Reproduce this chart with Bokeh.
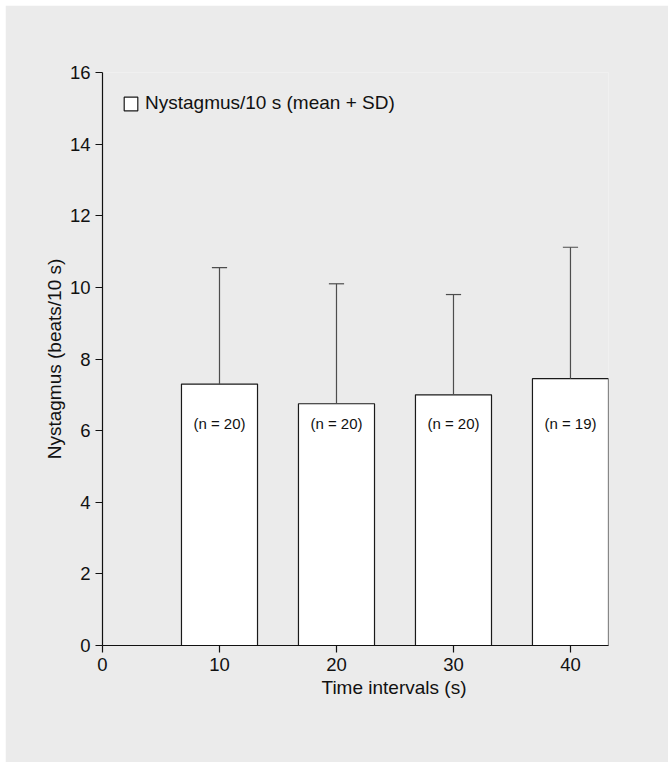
from bokeh.plotting import figure
from bokeh.models import ColumnDataSource, Legend, LegendItem, Title, FixedTicker
from bokeh.core.properties import value
from bokeh.embed import file_html
from bokeh.resources import INLINE

# ---- data ----
intervals = [10, 20, 30, 40]
means = [7.3, 6.75, 7.0, 7.45]
sds = [3.25, 3.35, 2.8, 3.67]
n_labels = ["(n = 20)", "(n = 20)", "(n = 20)", "(n = 19)"]
x_ticks = [0, 10, 20, 30, 40]
y_ticks = [0, 2, 4, 6, 8, 10, 12, 14, 16]
legend_text = "Nystagmus/10 s (mean + SD)"
x_title = "Time intervals (s)"
y_title = "Nystagmus (beats/10 s)"

FONT = "Liberation Sans"
BG = "#ebebeb"
BAR_W = 6.5
CAP = 0.65

upper = [m + s for m, s in zip(means, sds)]
src = ColumnDataSource(dict(
    x=intervals, top=means, up=upper,
    cl=[x - CAP for x in intervals], cr=[x + CAP for x in intervals],
    lab=n_labels,
))

p = figure(width=663, height=757, x_range=(0, 43.25), y_range=(0, 16),
           output_backend="svg", toolbar_location=None,
           min_border_left=97, min_border_right=60, min_border_top=67,
           min_border_bottom=117)
p.margin = (5, 4, 5, 5)
p.background_fill_color = BG
p.border_fill_color = BG
p.outline_line_color = None
p.grid.visible = False

bars = p.vbar(x="x", top="top", bottom=0, width=BAR_W, source=src,
              fill_color="white", line_color="#1a1a1a", line_width=1.2)
p.segment(x0="x", y0="top", x1="x", y1="up", source=src,
          line_color="#4d4d4d", line_width=1.2)
p.segment(x0="cl", y0="up", x1="cr", y1="up", source=src,
          line_color="#4d4d4d", line_width=1.2)
p.text(x="x", y=6.2, text="lab", source=src, text_align="center",
       text_baseline="middle", text_font=value(FONT),
       text_font_size="15px", text_color="#111111")

for ax in (p.xaxis[0], p.yaxis[0]):
    ax.axis_line_color = "#111111"
    ax.axis_line_width = 1.2
    ax.major_tick_line_color = "#111111"
    ax.major_tick_line_width = 1.2
    ax.major_tick_out = 7
    ax.major_tick_in = 0
    ax.minor_tick_line_color = None
    ax.major_label_text_font = FONT
    ax.major_label_text_font_size = "18.5px"
    ax.major_label_text_color = "#111111"
    ax.axis_label_text_font = FONT
    ax.axis_label_text_font_size = "19px"
    ax.axis_label_text_font_style = "normal"
    ax.axis_label_text_color = "#111111"

p.xaxis.ticker = FixedTicker(ticks=x_ticks)
p.yaxis.ticker = FixedTicker(ticks=y_ticks)
p.xaxis.major_label_standoff = 5
p.yaxis.major_label_standoff = 5
p.yaxis.axis_label = y_title
p.yaxis.axis_label_standoff = 2

p.add_layout(Title(text=x_title, align="left", offset=219, standoff=2,
                   text_font=FONT, text_font_size="19px",
                   text_font_style="normal", text_color="#111111"), "below")

legend = Legend(items=[LegendItem(label=legend_text, renderers=[bars])],
                location="top_left", margin=10, padding=10,
                glyph_width=17, glyph_height=17, label_standoff=6,
                label_text_font=FONT, label_text_font_size="19px",
                label_text_color="#111111",
                background_fill_alpha=0, border_line_alpha=0)
p.add_layout(legend)

open("out.html", "w").write(file_html(p, INLINE))
